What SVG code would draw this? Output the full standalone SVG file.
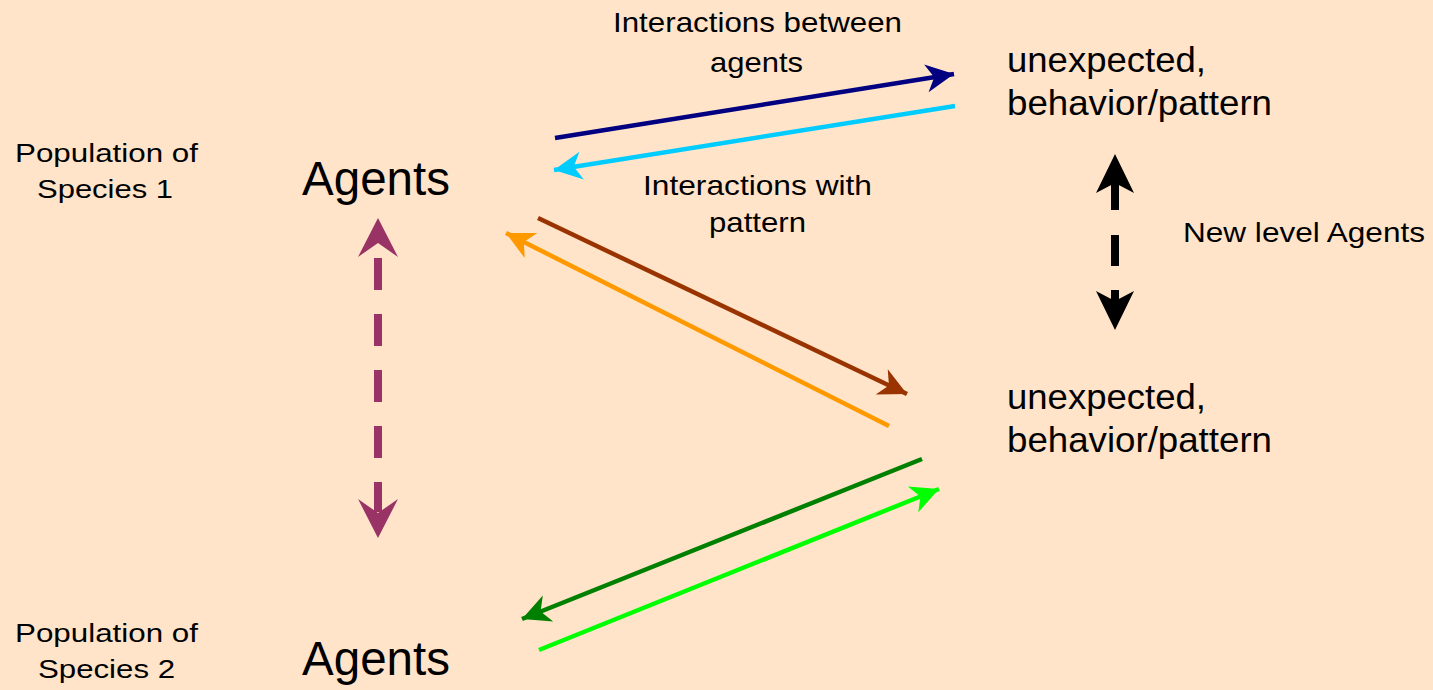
<svg xmlns="http://www.w3.org/2000/svg" width="1433" height="690" viewBox="0 0 1433 690">
  <style>
    text { font-family: "Liberation Sans", Arial, sans-serif; fill: #000; }
    .big { font-size: 48px; }
    .mid { font-size: 35px; }
    .lbl { font-size: 28px; }
    .pop { font-size: 26px; }
    .link { fill: none; stroke-width: 4.5; }
  </style>
  <defs>
    <marker id="m-navy" markerUnits="userSpaceOnUse" viewBox="-1 -15 31 30" refX="28" refY="0" markerWidth="31" markerHeight="30" orient="auto">
      <path d="M0,-14 L28,0 L0,14 L8,0 Z" fill="#000080"/>
    </marker>
    <marker id="m-cyan" markerUnits="userSpaceOnUse" viewBox="-1 -15 31 30" refX="28" refY="0" markerWidth="31" markerHeight="30" orient="auto">
      <path d="M0,-14 L28,0 L0,14 L8,0 Z" fill="#00CCFF"/>
    </marker>
    <marker id="m-brown" markerUnits="userSpaceOnUse" viewBox="-1 -15 31 30" refX="28" refY="0" markerWidth="31" markerHeight="30" orient="auto">
      <path d="M0,-14 L28,0 L0,14 L8,0 Z" fill="#993300"/>
    </marker>
    <marker id="m-orange" markerUnits="userSpaceOnUse" viewBox="-1 -15 31 30" refX="28" refY="0" markerWidth="31" markerHeight="30" orient="auto">
      <path d="M0,-14 L28,0 L0,14 L8,0 Z" fill="#FF9900"/>
    </marker>
    <marker id="m-green" markerUnits="userSpaceOnUse" viewBox="-1 -15 31 30" refX="28" refY="0" markerWidth="31" markerHeight="30" orient="auto">
      <path d="M0,-14 L28,0 L0,14 L8,0 Z" fill="#008000"/>
    </marker>
    <marker id="m-lime" markerUnits="userSpaceOnUse" viewBox="-1 -15 31 30" refX="28" refY="0" markerWidth="31" markerHeight="30" orient="auto">
      <path d="M0,-14 L28,0 L0,14 L8,0 Z" fill="#00FF00"/>
    </marker>
  </defs>

  <rect x="0" y="0" width="1433" height="690" fill="#FFE4CA"/>

  <!-- Side labels -->
  <g id="species1-label">
    <text class="pop" x="15" y="162" textLength="183" lengthAdjust="spacingAndGlyphs">Population of</text>
    <text class="pop" x="37" y="198" textLength="136" lengthAdjust="spacingAndGlyphs">Species 1</text>
  </g>
  <g id="species2-label">
    <text class="pop" x="15" y="642" textLength="183" lengthAdjust="spacingAndGlyphs">Population of</text>
    <text class="pop" x="38" y="678" textLength="137" lengthAdjust="spacingAndGlyphs">Species 2</text>
  </g>

  <!-- Nodes -->
  <g id="agents1">
    <text class="big" x="302" y="195" textLength="148" lengthAdjust="spacingAndGlyphs">Agents</text>
  </g>
  <g id="agents2">
    <text class="big" x="302" y="675" textLength="148" lengthAdjust="spacingAndGlyphs">Agents</text>
  </g>
  <g id="pattern-upper">
    <text class="mid" x="1007" y="72" textLength="199" lengthAdjust="spacingAndGlyphs">unexpected,</text>
    <text class="mid" x="1007" y="115" textLength="265" lengthAdjust="spacingAndGlyphs">behavior/pattern</text>
  </g>
  <g id="pattern-lower">
    <text class="mid" x="1007" y="409" textLength="199" lengthAdjust="spacingAndGlyphs">unexpected,</text>
    <text class="mid" x="1007" y="452" textLength="265" lengthAdjust="spacingAndGlyphs">behavior/pattern</text>
  </g>

  <!-- Connector labels -->
  <g id="labels">
    <text class="lbl" x="613" y="32" textLength="289" lengthAdjust="spacingAndGlyphs">Interactions between</text>
    <text class="lbl" x="710" y="72" textLength="93" lengthAdjust="spacingAndGlyphs">agents</text>
    <text class="lbl" x="643" y="195" textLength="229" lengthAdjust="spacingAndGlyphs">Interactions with</text>
    <text class="lbl" x="709" y="232" textLength="97" lengthAdjust="spacingAndGlyphs">pattern</text>
    <text class="lbl" x="1183" y="242" textLength="242" lengthAdjust="spacingAndGlyphs">New level Agents</text>
  </g>

  <!-- Connectors -->
  <g id="connectors">
    <line class="link" x1="555" y1="138" x2="954" y2="74" stroke="#000080" marker-end="url(#m-navy)"/>
    <line class="link" x1="955" y1="106" x2="554" y2="170" stroke="#00CCFF" marker-end="url(#m-cyan)"/>
    <line class="link" x1="538" y1="218" x2="907" y2="394" stroke="#993300" marker-end="url(#m-brown)"/>
    <line class="link" x1="889" y1="426" x2="506" y2="233" stroke="#FF9900" marker-end="url(#m-orange)"/>
    <line class="link" x1="922" y1="459" x2="522" y2="619" stroke="#008000" marker-end="url(#m-green)"/>
    <line class="link" x1="539" y1="650" x2="939" y2="489" stroke="#00FF00" marker-end="url(#m-lime)"/>

    <!-- species link, dashed double-headed -->
    <line x1="378" y1="258" x2="378" y2="512" stroke="#993366" stroke-width="8" stroke-dasharray="32 24"/>
    <path d="M378,218 L398,257 L378,243 L358,257 Z" fill="#993366"/>
    <path d="M378,538 L398,499 L378,513 L358,499 Z" fill="#993366"/>

    <!-- new level link, dashed double-headed -->
    <path d="M1115,183 V210 M1115,235 V266 M1115,290 V305" stroke="#000" stroke-width="8" fill="none"/>
    <path d="M1115,154 L1134,193 L1115,183 L1096,193 Z" fill="#000"/>
    <path d="M1115,330 L1134,291 L1115,301 L1096,291 Z" fill="#000"/>
  </g>
</svg>
